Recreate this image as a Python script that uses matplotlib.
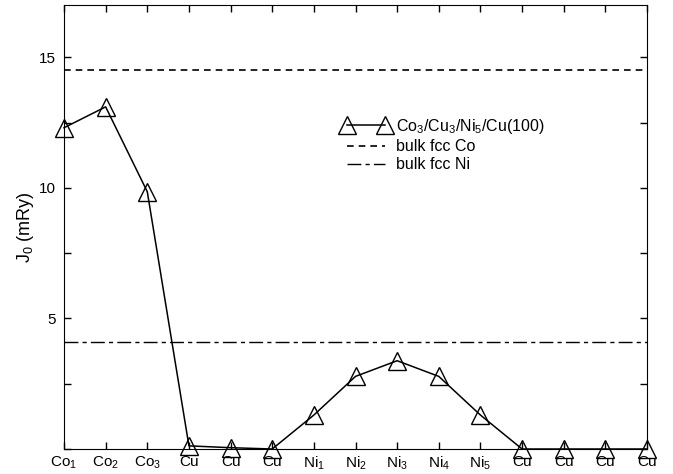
import matplotlib
matplotlib.use("Agg")
import matplotlib.pyplot as plt
from matplotlib.ticker import MultipleLocator

plt.rcParams['font.family'] = ['Liberation Sans', 'DejaVu Sans']
plt.rcParams['mathtext.default'] = 'regular'
plt.rcParams['font.size'] = 11

# layer labels along the stack
layers = ['Co$_1$', 'Co$_2$', 'Co$_3$', 'Cu', 'Cu', 'Cu',
          'Ni$_1$', 'Ni$_2$', 'Ni$_3$', 'Ni$_4$', 'Ni$_5$',
          'Cu', 'Cu', 'Cu', 'Cu']
# J0 per layer (mRy)
j0 = [12.3, 13.1, 9.85, 0.12, 0.05, 0.0,
      1.3, 2.78, 3.38, 2.78, 1.3,
      0.0, 0.0, 0.0, 0.0]
bulk_co = 14.5
bulk_ni = 4.08

fig = plt.figure(figsize=(6.73, 4.74), dpi=100)
ax = fig.add_axes([64 / 673, 25 / 474, 583 / 673, 444 / 474])

x = list(range(len(layers)))
ax.plot(x, j0, color='black', lw=1.1, marker='^', markersize=12.5,
        markerfacecolor='none', markeredgecolor='black', markeredgewidth=1.0,
        clip_on=False, zorder=3, label='Co$_3$/Cu$_3$/Ni$_5$/Cu(100)')
ax.axhline(bulk_co, color='black', lw=1.2, ls=(0, (4, 3)), label='bulk fcc Co')
ax.axhline(bulk_ni, color='black', lw=1.0, ls=(0, (10, 3, 3, 3)), label='bulk fcc Ni')

ax.set_xlim(0, len(layers) - 1)
ax.set_ylim(0, 17)
ax.set_xticks(x)
ax.set_xticklabels(layers)
ax.set_yticks([5, 10, 15])
ax.yaxis.set_minor_locator(MultipleLocator(2.5))
ax.tick_params(which='both', direction='in', top=True, right=True, length=5, width=1)
ax.tick_params(axis='x', pad=4)
ax.tick_params(axis='y', pad=6)
ax.set_ylabel('J$_0$ (mRy)', fontsize=13, labelpad=2)

ax.legend(loc='upper left', bbox_to_anchor=(0.452, 0.78), frameon=False,
          fontsize=11.5, handlelength=3.0, numpoints=2, labelspacing=0.2,
          handletextpad=0.4)

fig.savefig('out.png', dpi=100)
